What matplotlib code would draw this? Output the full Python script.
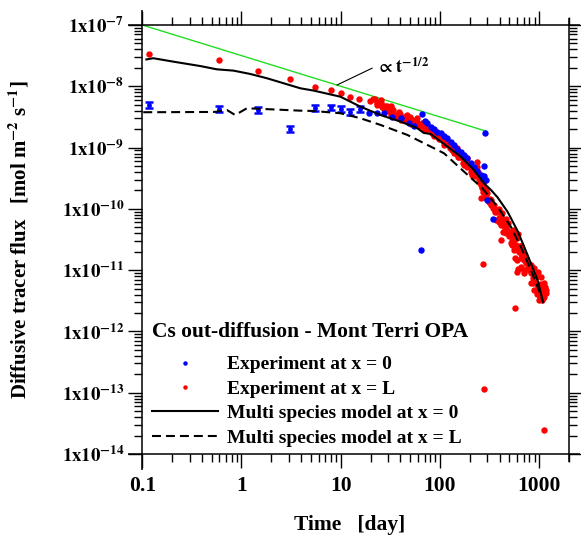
import numpy as np
import matplotlib
matplotlib.use('Agg')
import matplotlib.pyplot as plt
from matplotlib.lines import Line2D
from matplotlib.ticker import LogLocator, NullFormatter

plt.rcParams['font.family'] = ['Liberation Serif', 'DejaVu Serif']
plt.rcParams['font.weight'] = 'bold'
plt.rcParams['mathtext.fontset'] = 'stix'

# --- data (time in days, flux in mol m-2 s-1) ---
# blue points with error bars (early times)
blue_eb_t = [0.117, 0.587, 1.45, 3.05, 5.55, 8.0, 10.0, 12.5, 15.8]
blue_eb_f = [4.9e-9, 4.31e-9, 4.1e-9, 2.04e-9, 4.38e-9, 4.54e-9, 4.27e-9, 3.8e-9, 4.3e-9]
blue_eb_err = [0.55e-9, 0.5e-9, 0.45e-9, 0.23e-9, 0.5e-9, 0.5e-9, 0.48e-9, 0.43e-9, 0.45e-9]

# remaining blue points (experiment at x = 0)
blue_t = [19.2, 23.3, 27.2, 33.0, 40.1, 48.6, 54.6, 64.9, 66.4, 71.0,
          74.6, 80.5, 86.9, 94.2, 102, 110, 119, 128, 138, 150,
          162, 175, 189, 204, 220, 239, 258, 270, 285, 278,
          280, 290, 301, 343]
blue_f = [3.63e-9, 3.71e-9, 3.63e-9, 3.19e-9, 3.01e-9, 2.55e-9, 2.25e-9, 2.1e-11, 3.5e-9, 2.75e-9,
          2.49e-9, 2.2e-9, 2.0e-9, 1.8e-9, 1.71e-9, 1.55e-9, 1.42e-9, 1.25e-9, 1.1e-9, 9.6e-10,
          8.57e-10, 7.5e-10, 6.69e-10, 5.7e-10, 4.88e-10, 4.2e-10, 3.57e-10, 3.1e-10, 1.71e-9, 5.0e-10,
          3.4e-10, 2.96e-10, 1.4e-10, 6.9e-11]

# red points (experiment at x = L)
red_t = [0.117, 0.59, 1.46, 3.05, 5.55, 8.07, 10.0, 12.5, 15.3, 19.6,
         22.4, 23.3, 25.2, 27.2, 29.4, 31.8, 35.7, 38.6, 41.7, 46.1,
         50.6, 54.6, 59.1, 63.8, 68.9, 74.6, 80.5, 86.9, 94.2, 102,
         110, 119, 128, 138, 150, 162, 175, 189, 204, 220,
         25.2, 31.8, 38.6, 46.9, 59.1,
         31.8, 40.1, 50.6, 68.9, 86.9, 110, 138, 175, 212,
         119, 150, 189,
         239, 236, 242, 248, 258, 268, 274, 301, 325, 351,
         380, 410, 443, 480, 518, 558, 605, 653, 706, 764,
         825, 889, 964, 1040, 1082,
         265, 270, 280, 285, 290, 262,
         330, 360, 366, 410, 461, 518, 558, 605, 653, 706, 825, 889,
         889, 977, 1040, 1124, 1169, 1107, 993, 1150, 1100,
         420, 460, 540, 600, 680, 740, 800, 560, 830,
         272, 573, 417, 278, 1109, 653, 605]
red_f = [3.33e-8, 2.69e-8, 1.78e-8, 1.3e-8, 9.86e-9, 8.7e-9, 7.87e-9, 6.7e-9, 6.2e-9, 5.76e-9,
         6.14e-9, 5.28e-9, 4.96e-9, 4.54e-9, 4.38e-9, 4.1e-9, 3.4e-9, 3.19e-9, 3.12e-9, 3.01e-9,
         2.9e-9, 2.65e-9, 2.55e-9, 2.43e-9, 2.25e-9, 2.07e-9, 1.94e-9, 1.71e-9, 1.61e-9, 1.42e-9,
         1.25e-9, 1.18e-9, 1.04e-9, 9.14e-10, 7.87e-10, 6.95e-10, 5.89e-10, 5.2e-10, 4.59e-10, 3.9e-10,
         5.98e-9, 4.78e-9, 3.85e-9, 3.4e-9, 3.01e-9,
         3.4e-9, 2.82e-9, 2.43e-9, 1.94e-9, 1.52e-9, 1.1e-9, 8.07e-10, 5.2e-10, 3.57e-10,
         1.33e-9, 9.8e-10, 6.69e-10,
         5.89e-10, 4.9e-10, 4.05e-10, 2.96e-10, 2.45e-10, 2.17e-10, 1.91e-10, 1.79e-10, 1.4e-10, 1.16e-10,
         9.0e-11, 7.46e-11, 5.82e-11, 4.53e-11, 3.75e-11, 3.11e-11, 2.42e-11, 1.89e-11, 1.47e-11, 1.14e-11,
         8.89e-12, 6.92e-12, 5.38e-12, 4.2e-12, 3.48e-12,
         3.4e-10, 2.7e-10, 2.3e-10, 1.6e-10, 2.0e-10, 1.5e-10,
         1.15e-10, 8.8e-11, 6.59e-11, 5.46e-11, 4.0e-11, 2.75e-11, 2.14e-11, 1.47e-11, 1.14e-11, 8.89e-12, 6.11e-12, 4.75e-12,
         1.07e-11, 9.46e-12, 7.83e-12, 6.11e-12, 4.75e-12, 3.94e-12, 3.27e-12, 5.3e-12, 4.5e-12,
         8.5e-11, 6.8e-11, 4.5e-11, 3.4e-11, 2.2e-11, 1.6e-11, 1.25e-11, 4.0e-11, 1.2e-11,
         1.25e-11, 2.4e-12, 3.11e-11, 1.14e-13, 2.5e-14, 1.07e-11, 9.5e-12]

# more red points filling the dense band
red_band_t = [24, 26, 28, 30.5, 33, 37, 40, 43, 48, 52,
              57, 61, 66, 71, 77, 83, 90, 97, 106, 114,
              123, 133, 144, 156, 168, 182, 196, 212, 228, 245,
              255, 290, 310, 340, 370, 395, 430, 450, 470, 500,
              530, 545, 580, 620, 640, 670, 700, 730, 760, 790,
              850, 870, 910, 940, 1000, 1020, 1060, 1080, 1130, 1160]
red_band_f = [5.4e-9, 4.6e-9, 4.8e-9, 4.0e-9, 4.2e-9, 3.3e-9, 3.5e-9, 2.9e-9, 3.2e-9, 2.7e-9,
              2.8e-9, 2.35e-9, 2.5e-9, 2.05e-9, 2.15e-9, 1.75e-9, 1.8e-9, 1.45e-9, 1.5e-9, 1.15e-9,
              1.2e-9, 9.0e-10, 9.3e-10, 6.9e-10, 7.0e-10, 5.1e-10, 5.3e-10, 3.9e-10, 4.1e-10, 3.3e-10,
              2.6e-10, 1.5e-10, 1.3e-10, 1.05e-10, 9.5e-11, 7.0e-11, 6.5e-11, 4.8e-11, 5.5e-11, 3.6e-11,
              3.0e-11, 3.6e-11, 2.6e-11, 2.0e-11, 2.5e-11, 1.6e-11, 1.8e-11, 1.3e-11, 1.35e-11, 1.0e-11,
              9.0e-12, 7.5e-12, 6.5e-12, 7.8e-12, 5.0e-12, 6.0e-12, 4.0e-12, 5.0e-12, 5.5e-12, 4.2e-12]

red_band2_t = [21, 23, 25.5, 27.5, 29, 31, 34, 36, 39, 42,
               45, 47, 50, 55, 58, 63, 68, 73, 79, 85,
               92, 99, 104, 112, 117, 126, 131, 141, 147, 153,
               160, 172, 179, 186, 200, 207, 216, 224]
red_band2_f = [6.3e-9, 4.9e-9, 5.4e-9, 4.2e-9, 4.75e-9, 3.9e-9, 4.1e-9, 3.2e-9, 3.55e-9, 2.9e-9,
               3.3e-9, 2.75e-9, 3.1e-9, 2.5e-9, 2.8e-9, 2.25e-9, 2.5e-9, 1.95e-9, 2.12e-9, 1.65e-9,
               1.78e-9, 1.38e-9, 1.5e-9, 1.17e-9, 1.3e-9, 0.98e-9, 1.08e-9, 8.3e-10, 9.0e-10, 7.0e-10,
               7.6e-10, 5.6e-10, 6.1e-10, 4.9e-10, 5.1e-10, 4.05e-10, 4.3e-10, 3.4e-10]

red_band3_t = [252, 276, 285, 320, 350, 395, 390, 440, 490, 430,
               520, 610, 530, 590, 660, 570, 650, 720, 610, 700,
               800, 860, 860, 950, 1050, 950, 1030, 1120, 1060, 1120]
red_band3_f = [3.0e-10, 2.8e-10, 1.55e-10, 1.45e-10, 1.0e-10, 9.8e-11, 6.2e-11, 6.0e-11, 5.8e-11, 4.2e-11,
               4.2e-11, 3.9e-11, 2.6e-11, 2.4e-11, 2.5e-11, 1.6e-11, 1.55e-11, 1.7e-11, 1.05e-11, 1.0e-11,
               1.05e-11, 1.1e-11, 6.2e-12, 6.0e-12, 5.8e-12, 4.1e-12, 3.8e-12, 4.1e-12, 3.3e-12, 3.6e-12]

# multi species model, x = 0 (solid) and x = L (dashed)
model0_t = [0.11, 0.129, 0.206, 0.383, 0.565, 0.83, 1.22, 1.81, 3.92, 5.34,
            9.93, 15.8, 25.2, 40.1, 59.1, 68.9, 80.5, 119, 162, 220,
            278, 330, 380, 480, 605, 706, 825, 964, 1082]
model0_f = [2.74e-8, 2.87e-8, 2.52e-8, 2.14e-8, 1.89e-8, 1.80e-8, 1.59e-8, 1.35e-8, 9.27e-9, 8.5e-9,
            6.76e-9, 4.65e-9, 3.40e-9, 2.65e-9, 2.07e-9, 1.73e-9, 1.67e-9, 1.04e-9, 7.11e-10, 4.31e-10,
            2.62e-10, 2.0e-10, 1.55e-10, 9.0e-11, 4.4e-11, 2.42e-11, 1.30e-11, 6.92e-12, 3.27e-12]
modelL_t = [0.1023, 0.521, 0.565, 0.713, 0.863, 1.135, 3.92, 5.34, 9.93, 15.8,
            25.2, 46.9, 68.9, 110, 171, 268, 380, 518, 653, 825,
            964, 1107]
modelL_f = [3.77e-9, 3.81e-9, 3.85e-9, 4.1e-9, 3.4e-9, 4.38e-9, 4.0e-9, 3.95e-9, 3.63e-9, 3.01e-9,
            2.34e-9, 1.61e-9, 1.18e-9, 8.07e-10, 4.19e-10, 2.17e-10, 1.09e-10, 5.13e-11, 2.42e-11, 1.01e-11,
            5.38e-12, 2.88e-12]

# t^-1/2 guide line and its label leader
guide_t = [0.1, 296]
guide_f = [1e-7, 1.84e-9]
leader_t = [9.2, 20.7]
leader_f = [1.05e-8, 1.97e-8]

x_ticks = [0.1, 1, 10, 100, 1000]
x_ticklabels = ['0.1', '1', '10', '100', '1000']
y_exps = [-14, -13, -12, -11, -10, -9, -8, -7]

legend_title = 'Cs out-diffusion - Mont Terri OPA'
legend_labels = ['Experiment at x = 0', 'Experiment at x = L',
                 'Multi species model at x = 0', 'Multi species model at x = L']

fig = plt.figure(figsize=(5.81, 5.35), dpi=100)
ax = fig.add_axes([0.2449, 0.1514, 0.7344, 0.8019])
ax.set_xscale('log')
ax.set_yscale('log')

dash = (0, (4.3, 2.4))
ax.plot(guide_t, guide_f, color='#22dd22', lw=1.0, zorder=2)
for tt, ff in [(red_t, red_f), (red_band_t, red_band_f),
               (red_band2_t, red_band2_f), (red_band3_t, red_band3_f)]:
    ax.plot(tt, ff, 'o', color='red', ms=4.6, mec='none', zorder=3)
ax.errorbar(blue_eb_t, blue_eb_f, yerr=blue_eb_err, fmt='o', color='blue', ms=3.5, mec='none',
            elinewidth=1.6, capsize=2.8, capthick=1.8, zorder=4)
ax.plot(blue_t, blue_f, 'o', color='blue', ms=4.6, mec='none', zorder=4)
ax.plot(model0_t, model0_f, color='black', lw=1.5, zorder=5)
ax.plot(modelL_t, modelL_f, color='black', lw=1.5, ls=dash, zorder=5)

ax.plot(leader_t, leader_f, color='black', lw=0.8, zorder=5)
ax.text(22.5, 2.05e-8, r'$\propto \mathbf{t}^{\mathbf{-1/2}}$', fontsize=13, ha='left', va='center')

# crossed frame: lines overshoot the corners
for s in ax.spines.values():
    s.set_visible(False)
lkw = dict(transform=ax.transAxes, clip_on=False, color='black', lw=1.1, solid_capstyle='butt')
ax.plot([-0.034, 1.026], [0, 0], **lkw)
ax.plot([-0.034, 1.026], [1, 1], **lkw)
ax.plot([0, 0], [-0.037, 1.035], **lkw)
ax.plot([1, 1], [-0.019, 1.016], **lkw)

ax.set_xticks(x_ticks)
ax.set_xticklabels(x_ticklabels, fontsize=15.5, fontweight='bold')
ax.xaxis.set_minor_locator(LogLocator(base=10, subs=np.arange(2, 10), numticks=30))
ax.xaxis.set_minor_formatter(NullFormatter())
ax.set_yticks([10.0 ** e for e in y_exps])
ax.set_yticklabels([r'$\mathbf{1x10^{%d}}$' % e for e in y_exps], fontsize=13.5)
ax.yaxis.set_minor_locator(LogLocator(base=10, subs=np.arange(2, 10), numticks=30))
ax.yaxis.set_minor_formatter(NullFormatter())
ax.set_xlim(0.1, 2000)
ax.set_ylim(1e-14, 1e-7)

ax.tick_params(which='both', direction='out', top=True, right=True, width=1.0)
ax.tick_params(which='major', length=10)
ax.tick_params(which='minor', length=5.8)
ax.tick_params(axis='x', which='major', pad=6)
ax.tick_params(axis='y', which='major', pad=3)

handles = [Line2D([], [], ls='none', marker='o', color='blue', ms=3.2, mec='none'),
           Line2D([], [], ls='none', marker='o', color='red', ms=3.2, mec='none'),
           Line2D([], [], color='black', lw=1.5),
           Line2D([], [], color='black', lw=1.5, ls=dash)]
ax.text(0.0227, 0.284, legend_title, transform=ax.transAxes, ha='left', va='center',
        fontsize=15.5, fontweight='bold')
ax.legend(handles, legend_labels, loc='upper left', bbox_to_anchor=(0.0227, 0.229),
          frameon=False, prop={'size': 14, 'weight': 'bold'},
          handlelength=3.4, handletextpad=0.45, labelspacing=0.35,
          borderpad=0, borderaxespad=0)

fig.text(19 / 581, 1 - 240 / 535, r'Diffusive tracer flux   [mol m$^{\mathbf{-2}}$ s$^{\mathbf{-1}}$]',
         rotation=90, ha='center', va='center', fontsize=15, fontweight='bold')
fig.text(350 / 581, 1 - 525 / 535, 'Time   [day]', ha='center', va='center',
         fontsize=15.5, fontweight='bold')

fig.savefig('out.png', dpi=100)
